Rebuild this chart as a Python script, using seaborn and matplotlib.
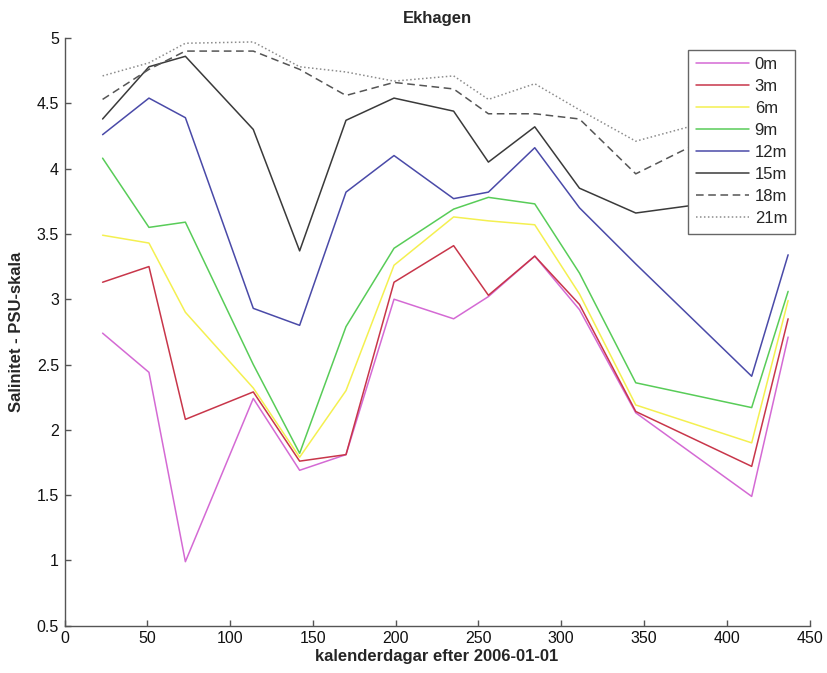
import matplotlib
matplotlib.use("Agg")
import matplotlib.pyplot as plt
import seaborn as sns
import pandas as pd

# Sampling days (calendar days after 2006-01-01)
days = [23, 51, 73, 114, 142, 170, 199, 235, 256, 284, 311, 345, 415, 437]

depths = ["0m", "3m", "6m", "9m", "12m", "15m", "18m", "21m"]

sal_0m = [2.74, 2.44, 0.99, 2.24, 1.69, 1.81, 3.00, 2.85, 3.02, 3.33, 2.92, 2.13, 1.49, 2.71]
sal_3m = [3.13, 3.25, 2.08, 2.29, 1.76, 1.81, 3.13, 3.41, 3.03, 3.33, 2.96, 2.14, 1.72, 2.85]
sal_6m = [3.49, 3.43, 2.90, 2.32, 1.79, 2.30, 3.26, 3.63, 3.60, 3.57, 3.04, 2.19, 1.90, 2.99]
sal_9m = [4.08, 3.55, 3.59, 2.50, 1.82, 2.79, 3.39, 3.69, 3.78, 3.73, 3.20, 2.36, 2.17, 3.06]
sal_12m = [4.26, 4.54, 4.39, 2.93, 2.80, 3.82, 4.10, 3.77, 3.82, 4.16, 3.70, 3.27, 2.41, 3.34]
sal_15m = [4.38, 4.78, 4.86, 4.30, 3.37, 4.37, 4.54, 4.44, 4.05, 4.32, 3.85, 3.66, 3.78, 3.82]
sal_18m = [4.53, 4.76, 4.90, 4.90, 4.76, 4.56, 4.66, 4.61, 4.42, 4.42, 4.38, 3.96, 4.40, 4.45]
sal_21m = [4.71, 4.81, 4.96, 4.97, 4.78, 4.74, 4.67, 4.71, 4.53, 4.65, 4.45, 4.21, 4.45, 4.50]

series = [sal_0m, sal_3m, sal_6m, sal_9m, sal_12m, sal_15m, sal_18m, sal_21m]

colors = {
    "0m": "#d46ad4",
    "3m": "#c8364a",
    "6m": "#f4f050",
    "9m": "#58cc58",
    "12m": "#4a4aa8",
    "15m": "#3a3a3a",
    "18m": "#555555",
    "21m": "#8c8c8c",
}
dashes = {
    "0m": "", "3m": "", "6m": "", "9m": "", "12m": "", "15m": "",
    "18m": (5, 3),
    "21m": (1, 1.6),
}

rows = []
for depth, vals in zip(depths, series):
    for d, v in zip(days, vals):
        rows.append({"dag": d, "salinitet": v, "djup": depth})
df = pd.DataFrame(rows)

sns.set_style("white")
plt.rcParams["font.family"] = ["Liberation Sans", "DejaVu Sans"]

fig = plt.figure(figsize=(8.27, 6.73), dpi=100)
ax = fig.add_axes([0.078, 0.0703, 0.901, 0.8732])

sns.lineplot(
    data=df, x="dag", y="salinitet", hue="djup", style="djup",
    hue_order=depths, style_order=depths,
    palette=colors, dashes=dashes, linewidth=1.1, ax=ax, sort=False,
)

ax.set_xlim(0, 450)
ax.set_ylim(0.5, 5)
ax.set_xticks(range(0, 451, 50))
ax.set_yticks([0.5, 1, 1.5, 2, 2.5, 3, 3.5, 4, 4.5, 5])
ax.set_yticklabels(["0.5", "1", "1.5", "2", "2.5", "3", "3.5", "4", "4.5", "5"])

for side in ["top", "right"]:
    ax.spines[side].set_visible(False)
for side in ["left", "bottom"]:
    ax.spines[side].set_color("#555555")
    ax.spines[side].set_linewidth(1.0)

ax.tick_params(axis="both", direction="in", length=4, width=1.0,
               color="#555555", labelsize=11.5, labelcolor="#111111",
               left=True, bottom=True, pad=4)

ax.set_xlabel("kalenderdagar efter 2006-01-01", fontsize=12,
              fontweight="bold", labelpad=2)
ax.set_ylabel("Salinitet - PSU-skala", fontsize=12,
              fontweight="bold", labelpad=9)
ax.set_title("Ekhagen", fontsize=12, fontweight="bold", pad=11)

handles, labels = ax.get_legend_handles_labels()
leg = ax.legend(
    handles, labels, loc="upper right", bbox_to_anchor=(0.98, 0.98),
    fontsize=12, handlelength=3.2, handletextpad=0.35, labelspacing=0.42,
    borderpad=0.45, fancybox=False, framealpha=1.0, edgecolor="#666666",
    borderaxespad=0.0,
)
leg.get_frame().set_linewidth(1.0)

fig.savefig("out.png", dpi=100, facecolor="white")
